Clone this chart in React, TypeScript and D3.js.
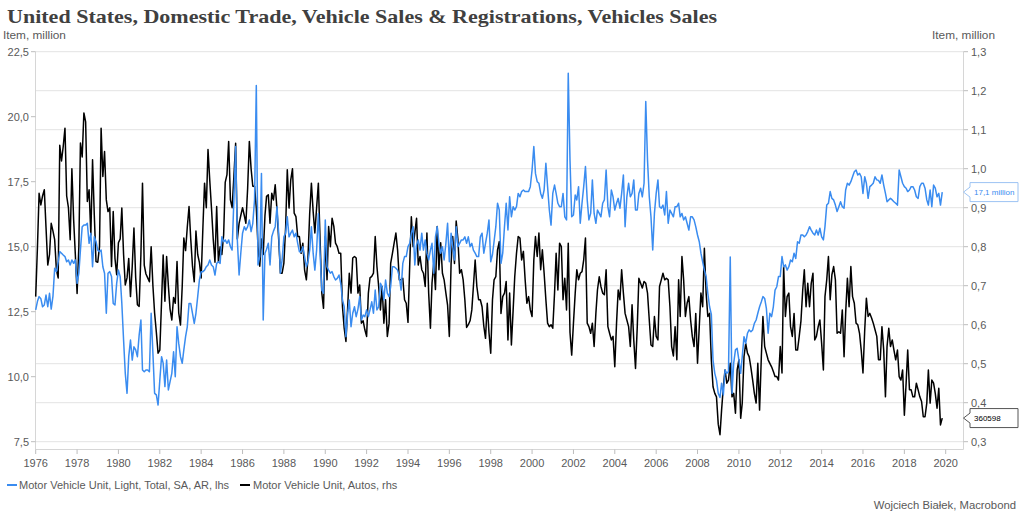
import React from "react";
import * as d3 from "d3";

// ---------- data (monthly, Jan 1976 .. Nov 2019) ----------
const START_YEAR = 1976;

// Motor Vehicle Unit, Light, Total, SA, AR (million) – left axis
const light1970s = [
  12.57, 12.9, 13.08, 13.0, 12.69, 12.76, 13.14, 12.69, 13.21, 12.6, 13.1, 14.17,
  14.04, 14.42, 14.81, 14.75, 14.68, 14.62, 14.42, 14.49, 14.3, 14.49, 14.36, 14.49,
  13.59, 13.98, 14.87, 15.77, 15.83, 15.83, 15.9, 15.13, 15.52, 14.23, 15.38, 15.2,
  14.87, 14.81, 14.87, 14.23, 13.98, 12.44, 13.98, 14.04, 13.85, 12.82, 12.76, 13.59,
];
const light1980s = [
  14.1, 13.85, 12.82, 11.41, 10.13, 9.36, 10.77, 11.41, 10.64, 11.15, 11.03, 10.77,
  11.6, 12.18, 10.26, 10.19, 10.26, 10.26, 10.19, 12.44, 10.9, 9.36, 9.3, 8.91,
  9.87, 10.77, 10.52, 9.62, 10.64, 9.49, 9.81, 10.13, 10.96, 10.0, 11.92, 11.28,
  10.77, 10.52, 11.03, 11.54, 11.92, 12.82, 12.82, 12.44, 12.05, 12.44, 13.08, 13.72,
  14.04, 14.04, 14.1, 14.23, 14.3, 14.49, 14.3, 14.23, 13.91, 14.36, 14.42, 14.36,
  15.38, 15.19, 15.26, 15.13, 15.26, 15.0, 14.87, 16.8, 18.85, 15.26, 13.91, 14.75,
  15.52, 15.77, 15.64, 15.77, 16.03, 15.58, 15.9, 16.8, 21.2, 14.3, 14.62, 17.82,
  12.18, 14.75, 14.9, 15.13, 14.3, 15.38, 15.6, 15.77, 16.54, 15.52, 13.98, 14.49,
  15.38, 15.52, 16.15, 15.38, 15.52, 15.64, 15.38, 15.52, 15.13, 14.81, 14.8, 15.0,
  14.62, 14.23, 14.42, 14.87, 15.77, 14.75, 14.1, 14.87, 16.28, 14.75, 13.33, 13.21,
];
const light1990s = [
  16.03, 14.23, 14.1, 13.98, 14.04, 13.85, 13.72, 13.78, 13.91, 13.59, 12.95, 12.69,
  11.54, 12.44, 12.95, 11.92, 12.44, 12.69, 12.31, 12.6, 13.08, 12.18, 12.37, 12.31,
  12.57, 12.31, 12.57, 12.88, 12.44, 13.33, 12.57, 12.69, 13.59, 13.46, 12.95, 13.72,
  13.21, 13.08, 13.46, 14.23, 14.23, 14.17, 14.1, 13.85, 13.33, 14.36, 14.62, 14.62,
  15.0, 15.13, 15.52, 15.77, 14.3, 15.07, 15.26, 14.87, 15.52, 14.87, 15.26, 14.75,
  14.49, 14.87, 15.13, 13.98, 15.38, 15.77, 15.13, 14.75, 15.0, 14.49, 15.13, 15.9,
  14.42, 15.52, 15.0, 14.49, 15.77, 15.0, 15.13, 15.26, 15.26, 15.38, 15.13, 15.38,
  15.0, 15.13, 14.87, 14.75, 14.62, 14.62, 15.38, 15.52, 14.75, 15.13, 15.52, 16.03,
  14.42, 14.7, 15.2, 15.77, 16.67, 16.41, 14.36, 14.75, 15.77, 16.67, 15.64, 16.92,
  16.15, 16.54, 16.41, 16.54, 17.05, 16.92, 17.12, 17.18, 17.12, 17.12, 17.12, 17.31,
];
const light2000s = [
  17.95, 18.85, 17.82, 17.5, 17.44, 17.05, 16.86, 17.18, 18.21, 17.31, 16.41, 15.83,
  17.05, 17.37, 17.05, 16.67, 16.54, 16.54, 17.05, 16.15, 16.03, 21.67, 18.33, 16.15,
  16.22, 16.99, 16.8, 17.31, 15.9, 16.67, 17.31, 18.08, 16.8, 16.03, 16.28, 17.57,
  16.28, 15.9, 16.41, 16.28, 16.15, 16.67, 16.8, 17.95, 16.54, 16.15, 17.18, 16.92,
  16.41, 16.67, 16.86, 16.48, 17.05, 17.76, 15.77, 16.92, 17.44, 16.92, 17.05, 17.57,
  16.41, 16.41, 17.05, 17.25, 16.92, 17.44, 20.58, 18.33, 16.92, 16.15, 14.87, 16.28,
  17.05, 17.57, 16.54, 16.48, 16.6, 16.22, 17.12, 15.9, 16.41, 16.28, 16.15, 16.54,
  16.54, 16.67, 16.15, 16.28, 16.03, 16.15, 15.9, 15.64, 16.15, 16.15, 16.03, 15.77,
  15.45, 15.19, 14.75, 14.42, 14.1, 13.85, 13.21, 12.69, 12.4, 10.64, 10.13, 9.87,
  9.36, 9.2, 9.75, 9.3, 10.26, 10.13, 10.2, 14.6, 9.36, 10.52, 11.03, 11.09,
];
const light2010s = [
  10.64, 10.13, 10.77, 11.54, 11.28, 11.67, 11.8, 11.73, 11.8, 12.05, 12.18, 12.44,
  12.69, 12.88, 13.08, 13.01, 12.63, 11.67, 12.44, 12.31, 12.69, 13.33, 13.46, 13.85,
  13.85, 14.62, 14.23, 14.3, 14.1, 14.23, 14.49, 14.42, 14.75, 14.55, 15.19, 15.13,
  15.45, 15.45, 15.38, 15.45, 15.58, 15.77, 15.64, 15.52, 15.45, 15.64, 15.45, 15.71,
  15.38, 15.26, 15.77, 16.6, 16.67, 17.12, 16.86, 16.8, 16.6, 16.35, 16.54, 16.73,
  16.54, 16.48, 17.18, 17.44, 17.37, 17.5, 17.69, 17.88, 17.95, 17.76, 17.82, 17.69,
  17.05, 17.69, 17.44, 16.86, 17.31, 17.37, 17.44, 17.69, 17.57, 17.55, 17.44, 17.76,
  17.37, 17.05, 16.73, 16.8, 16.86, 16.8, 16.73, 16.67, 16.6, 17.95, 17.69, 17.44,
  17.31, 17.25, 17.12, 17.18, 17.31, 17.31, 17.18, 16.92, 16.86, 17.31, 17.44, 17.44,
  17.25, 16.8, 16.6, 17.18, 16.54, 17.37, 17.25, 16.92, 17.05, 16.6, 17.1,
];

// Motor Vehicle Unit, Autos (million) – right axis
const autos1970s = [
  0.672, 0.8, 0.937, 0.907, 0.93, 0.946, 0.85, 0.753, 0.78, 0.86, 0.84, 0.818,
  0.74, 0.72, 1.06, 1.02, 1.057, 1.104, 0.93, 0.9, 0.818, 1.0, 0.869, 0.78,
  0.68, 0.8, 1.066, 1.03, 1.143, 1.12, 0.916, 0.946, 0.83, 1.023, 0.88, 0.762,
  0.76, 0.8, 1.104, 0.98, 1.044, 0.92, 0.89, 0.9, 0.749, 0.89, 0.77, 0.728,
];
const autos1980s = [
  0.81, 0.82, 0.899, 0.78, 0.702, 0.72, 0.77, 0.672, 0.75, 0.848, 0.72, 0.651,
  0.647, 0.78, 0.963, 0.753, 0.73, 0.72, 0.71, 0.8, 0.7, 0.63, 0.58, 0.527,
  0.535, 0.66, 0.779, 0.66, 0.775, 0.7, 0.64, 0.612, 0.67, 0.655, 0.762, 0.63,
  0.599, 0.7, 0.822, 0.79, 0.85, 0.903, 0.82, 0.75, 0.71, 0.84, 0.78, 0.76,
  0.72, 0.85, 0.963, 0.9, 1.049, 0.97, 0.9, 0.82, 0.76, 0.903, 0.76, 0.8,
  0.78, 0.83, 0.965, 0.985, 1.07, 0.92, 0.9, 0.98, 1.065, 0.82, 0.86, 0.88,
  0.9, 0.88, 0.86, 0.95, 1.07, 1.0, 0.955, 0.955, 0.9, 0.8, 0.75, 0.82,
  0.78, 0.88, 0.929, 0.933, 0.86, 0.937, 0.92, 0.959, 0.895, 0.82, 0.732, 0.732,
  0.758, 0.85, 0.997, 0.899, 0.971, 1.0, 0.886, 0.877, 0.826, 0.826, 0.783, 0.809,
  0.74, 0.715, 0.77, 0.886, 0.963, 0.89, 0.835, 0.9, 0.963, 0.818, 0.681, 0.642,
];
const autos1990s = [
  0.826, 0.715, 0.852, 0.8, 0.873, 0.852, 0.809, 0.8, 0.783, 0.783, 0.646, 0.591,
  0.557, 0.646, 0.732, 0.681, 0.771, 0.775, 0.771, 0.681, 0.702, 0.604, 0.61, 0.587,
  0.57, 0.681, 0.72, 0.724, 0.732, 0.826, 0.75, 0.698, 0.638, 0.698, 0.604, 0.664,
  0.57, 0.604, 0.757, 0.783, 0.809, 0.835, 0.792, 0.715, 0.715, 0.719, 0.664, 0.655,
  0.606, 0.757, 0.877, 0.8, 0.835, 0.873, 0.753, 0.775, 0.741, 0.732, 0.698, 0.835,
  0.681, 0.591, 0.707, 0.758, 0.69, 0.852, 0.741, 0.81, 0.732, 0.715, 0.681, 0.65,
  0.57, 0.757, 0.826, 0.757, 0.866, 0.818, 0.732, 0.741, 0.715, 0.664, 0.593, 0.6,
  0.61, 0.638, 0.698, 0.766, 0.698, 0.664, 0.664, 0.646, 0.596, 0.565, 0.655, 0.58,
  0.527, 0.664, 0.715, 0.723, 0.792, 0.813, 0.629, 0.672, 0.681, 0.711, 0.561, 0.681,
  0.548, 0.638, 0.723, 0.783, 0.826, 0.822, 0.766, 0.788, 0.715, 0.655, 0.672, 0.638,
];
const autos2000s = [
  0.621, 0.766, 0.826, 0.775, 0.835, 0.741, 0.792, 0.732, 0.664, 0.604, 0.595, 0.6,
  0.591, 0.681, 0.783, 0.689, 0.809, 0.8, 0.664, 0.719, 0.638, 0.809, 0.58, 0.522,
  0.604, 0.681, 0.741, 0.715, 0.732, 0.736, 0.766, 0.822, 0.604, 0.595, 0.578, 0.604,
  0.544, 0.629, 0.689, 0.723, 0.698, 0.681, 0.677, 0.741, 0.595, 0.578, 0.561, 0.57,
  0.492, 0.604, 0.689, 0.664, 0.741, 0.681, 0.629, 0.612, 0.595, 0.544, 0.651, 0.561,
  0.488, 0.595, 0.719, 0.706, 0.694, 0.711, 0.706, 0.681, 0.612, 0.548, 0.544, 0.621,
  0.57, 0.561, 0.698, 0.715, 0.732, 0.715, 0.719, 0.715, 0.646, 0.544, 0.52, 0.595,
  0.51, 0.715, 0.621, 0.775, 0.715, 0.621, 0.655, 0.672, 0.612, 0.57, 0.544, 0.629,
  0.501, 0.595, 0.681, 0.646, 0.796, 0.681, 0.621, 0.629, 0.51, 0.441, 0.424, 0.415,
  0.345, 0.318, 0.381, 0.441, 0.484, 0.45, 0.458, 0.501, 0.415, 0.424, 0.373, 0.484,
];
const autos2010s = [
  0.51, 0.36, 0.399, 0.518, 0.552, 0.527, 0.518, 0.49, 0.458, 0.424, 0.399, 0.501,
  0.381, 0.518, 0.621, 0.544, 0.527, 0.51, 0.501, 0.492, 0.48, 0.467, 0.467, 0.458,
  0.544, 0.476, 0.749, 0.621, 0.672, 0.681, 0.595, 0.57, 0.629, 0.535, 0.535, 0.57,
  0.61, 0.689, 0.741, 0.646, 0.706, 0.646, 0.706, 0.732, 0.561, 0.57, 0.595, 0.612,
  0.552, 0.484, 0.672, 0.715, 0.775, 0.664, 0.728, 0.749, 0.715, 0.578, 0.582, 0.578,
  0.638, 0.518, 0.629, 0.719, 0.646, 0.749, 0.672, 0.655, 0.604, 0.6, 0.578, 0.535,
  0.476, 0.587, 0.668, 0.621, 0.629, 0.617, 0.604, 0.587, 0.57, 0.51, 0.51, 0.595,
  0.535, 0.415, 0.544, 0.591, 0.544, 0.561, 0.535, 0.51, 0.535, 0.467, 0.458, 0.484,
  0.368, 0.45, 0.535, 0.433, 0.433, 0.415, 0.415, 0.45, 0.433, 0.415, 0.403, 0.364,
  0.364, 0.399, 0.484, 0.399, 0.458, 0.45, 0.424, 0.386, 0.437, 0.343, 0.3606,
];

const LEFT_TICKS = [7.5, 10, 12.5, 15, 17.5, 20, 22.5];
const RIGHT_TICKS = [0.3, 0.4, 0.5, 0.6, 0.7, 0.8, 0.9, 1.0, 1.1, 1.2, 1.3];
const X_TICK_YEARS = [
  1976, 1978, 1980, 1982, 1984, 1986, 1988, 1990, 1992, 1994, 1996, 1998,
  2000, 2002, 2004, 2006, 2008, 2010, 2012, 2014, 2016, 2018, 2020,
];

const TITLE =
  "United States, Domestic Trade, Vehicle Sales & Registrations, Vehicles Sales";
const LEGEND_LIGHT = "Motor Vehicle Unit, Light, Total, SA, AR, lhs";
const LEGEND_AUTOS = "Motor Vehicle Unit, Autos, rhs";
const CREDIT = "Wojciech Białek, Macrobond";
const UNIT = "Item, million";
const LAST_LIGHT_LABEL = "17,1 million";
const LAST_AUTOS_LABEL = "360598";

// ---------- layout ----------
const W = 1024;
const H = 521;
const X0 = 35.7;
const X1 = 945.7;
const Y_TOP = 51.7;
const Y_BOT = 441.7;
const AXIS_LEFT = 35.5;
const AXIS_RIGHT = 963.5;
const AXIS_BOTTOM = 449.5;

const BLUE = "#3a8cf0";
const TEXT = "#595959";
const GRID = "#e3e3e3";
const AXIS = "#d6d6d6";
const SANS = "'Liberation Sans', Arial, sans-serif";

type Pt = { date: Date; v: number };

function toSeries(values: number[]): Pt[] {
  return values.map((v, i) => ({ date: new Date(START_YEAR, i, 1), v }));
}

const fmt1 = (n: number) => d3.format(".1f")(n).replace(".", ",");

export default function App() {
  const light = toSeries([
    ...light1970s,
    ...light1980s,
    ...light1990s,
    ...light2000s,
    ...light2010s,
  ]);
  const autos = toSeries([
    ...autos1970s,
    ...autos1980s,
    ...autos1990s,
    ...autos2000s,
    ...autos2010s,
  ]);

  const x = d3
    .scaleTime()
    .domain([new Date(1976, 0, 1), new Date(2020, 0, 1)])
    .range([X0, X1]);
  const yL = d3.scaleLinear().domain([7.5, 22.5]).range([Y_BOT, Y_TOP]);
  const yR = d3.scaleLinear().domain([0.3, 1.3]).range([Y_BOT, Y_TOP]);

  const lineL = d3
    .line<Pt>()
    .x((d) => x(d.date))
    .y((d) => yL(d.v));
  const lineR = d3
    .line<Pt>()
    .x((d) => x(d.date))
    .y((d) => yR(d.v));

  const lastL = light[light.length - 1];
  const lastR = autos[autos.length - 1];
  const yLastL = yL(lastL.v);
  const yLastR = yR(lastR.v);

  const labelBox = (yc: number) => {
    const tip = AXIS_RIGHT;
    const bx = 970;
    const br = 1018;
    const top = yc - 9.5;
    const bot = yc + 9.5;
    return `M${tip},${yc} L${bx},${yc - 5} L${bx},${top} L${br},${top} L${br},${bot} L${bx},${bot} L${bx},${yc + 5} Z`;
  };

  return (
    <svg
      width={W}
      height={H}
      viewBox={`0 0 ${W} ${H}`}
      style={{ position: "absolute", left: 0, top: 0, background: "#fff" }}
    >
      <rect x={0} y={0} width={W} height={H} fill="#fff" />

      {/* title */}
      <text
        x={7}
        y={22.5}
        fontFamily="'Liberation Serif', 'Times New Roman', serif"
        fontWeight="bold"
        fontSize={19}
        fill="#404040"
        textLength={710}
        lengthAdjust="spacingAndGlyphs"
      >
        {TITLE}
      </text>

      {/* unit labels */}
      <text x={3} y={39} fontFamily={SANS} fontSize={11.8} fill={TEXT}>
        {UNIT}
      </text>
      <text
        x={995}
        y={39}
        fontFamily={SANS}
        fontSize={11.8}
        fill={TEXT}
        textAnchor="end"
      >
        {UNIT}
      </text>

      {/* grid lines (right-axis ticks) */}
      {RIGHT_TICKS.map((t) => (
        <line
          key={`g${t}`}
          x1={AXIS_LEFT}
          x2={AXIS_RIGHT}
          y1={yR(t)}
          y2={yR(t)}
          stroke={GRID}
          strokeWidth={1}
        />
      ))}

      {/* axis lines */}
      <line x1={AXIS_LEFT} x2={AXIS_LEFT} y1={Y_TOP} y2={AXIS_BOTTOM} stroke={AXIS} />
      <line x1={AXIS_RIGHT} x2={AXIS_RIGHT} y1={Y_TOP} y2={AXIS_BOTTOM} stroke={AXIS} />
      <line x1={AXIS_LEFT} x2={AXIS_RIGHT} y1={AXIS_BOTTOM} y2={AXIS_BOTTOM} stroke={AXIS} />

      {/* left axis */}
      {LEFT_TICKS.map((t) => (
        <g key={`l${t}`}>
          <line x1={31} x2={AXIS_LEFT} y1={yL(t)} y2={yL(t)} stroke="#bdbdbd" />
          <text
            x={29}
            y={yL(t)}
            dy="0.35em"
            textAnchor="end"
            fontFamily={SANS}
            fontSize={11}
            fill={TEXT}
          >
            {fmt1(t)}
          </text>
        </g>
      ))}

      {/* right axis */}
      {RIGHT_TICKS.map((t) => (
        <g key={`r${t}`}>
          <line x1={AXIS_RIGHT} x2={968} y1={yR(t)} y2={yR(t)} stroke="#bdbdbd" />
          <text
            x={971}
            y={yR(t)}
            dy="0.35em"
            fontFamily={SANS}
            fontSize={11}
            fill={TEXT}
          >
            {fmt1(t)}
          </text>
        </g>
      ))}

      {/* x axis */}
      {X_TICK_YEARS.map((yr) => {
        const xx = x(new Date(yr, 0, 1));
        return (
          <g key={`x${yr}`}>
            <line x1={xx} x2={xx} y1={AXIS_BOTTOM} y2={454} stroke="#bdbdbd" />
            <text
              x={xx}
              y={467}
              textAnchor="middle"
              fontFamily={SANS}
              fontSize={11}
              fill={TEXT}
            >
              {yr}
            </text>
          </g>
        );
      })}

      {/* series */}
      <path
        d={lineR(autos) || ""}
        fill="none"
        stroke="#000"
        strokeWidth={1.5}
        strokeLinejoin="round"
      />
      <path
        d={lineL(light) || ""}
        fill="none"
        stroke={BLUE}
        strokeWidth={1.5}
        strokeLinejoin="round"
      />

      {/* last value labels */}
      <path d={labelBox(yLastL)} fill="#fff" stroke="#9cc3f3" strokeWidth={1} />
      <text
        x={974}
        y={yLastL}
        dy="0.35em"
        fontFamily={SANS}
        fontSize={8}
        fill={BLUE}
      >
        {LAST_LIGHT_LABEL}
      </text>
      <path d={labelBox(yLastR)} fill="#fff" stroke="#555" strokeWidth={1} />
      <text
        x={974}
        y={yLastR}
        dy="0.35em"
        fontFamily={SANS}
        fontSize={8}
        fill="#000"
      >
        {LAST_AUTOS_LABEL}
      </text>

      {/* legend */}
      <line x1={7} x2={17} y1={485} y2={485} stroke={BLUE} strokeWidth={2} />
      <text x={19} y={489} fontFamily={SANS} fontSize={11} fill={TEXT}>
        {LEGEND_LIGHT}
      </text>
      <line x1={240} x2={250} y1={485} y2={485} stroke="#000" strokeWidth={2} />
      <text x={253} y={489} fontFamily={SANS} fontSize={11} fill={TEXT}>
        {LEGEND_AUTOS}
      </text>

      {/* credit */}
      <text
        x={1016}
        y={509}
        textAnchor="end"
        fontFamily={SANS}
        fontSize={11.3}
        fill={TEXT}
      >
        {CREDIT}
      </text>
    </svg>
  );
}
